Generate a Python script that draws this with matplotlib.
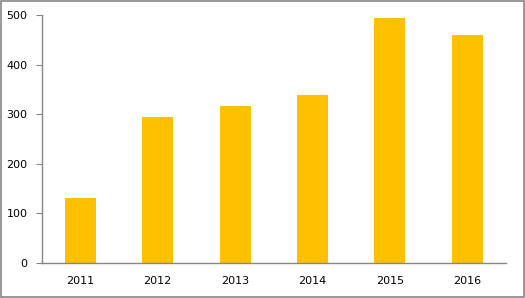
import matplotlib.pyplot as plt
from matplotlib.patches import Rectangle

years = ["2011", "2012", "2013", "2014", "2015", "2016"]
values = [131, 294, 316, 339, 494, 460]
y_ticks = [0, 100, 200, 300, 400, 500]

BAR_COLOR = "#FFC000"
AXIS_COLOR = "#868686"

fig = plt.figure(figsize=(5.25, 2.98), dpi=100)
ax = fig.add_axes([41.5 / 525, 1 - 263 / 298, (506 - 41.5) / 525, (263 - 15) / 298])

x = range(len(years))
ax.bar(x, values, width=0.4, color=BAR_COLOR)

ax.set_xlim(-0.5, len(years) - 0.5)
ax.set_ylim(0, 500)
ax.set_yticks(y_ticks)
ax.set_xticks(list(x))
ax.set_xticklabels(years)

for side in ("top", "right"):
    ax.spines[side].set_visible(False)
for side in ("left", "bottom"):
    ax.spines[side].set_color(AXIS_COLOR)
    ax.spines[side].set_linewidth(1)

ax.tick_params(axis="y", direction="out", length=4, color=AXIS_COLOR,
               labelsize=8, pad=6)
ax.tick_params(axis="x", length=0, labelsize=8, pad=9)

# grey frame round the whole chart
fig.patches.append(Rectangle((0.001, 0.002), 0.997, 0.995, transform=fig.transFigure,
                             fill=False, edgecolor=AXIS_COLOR, linewidth=1.2))

fig.savefig("out.png", dpi=100)
